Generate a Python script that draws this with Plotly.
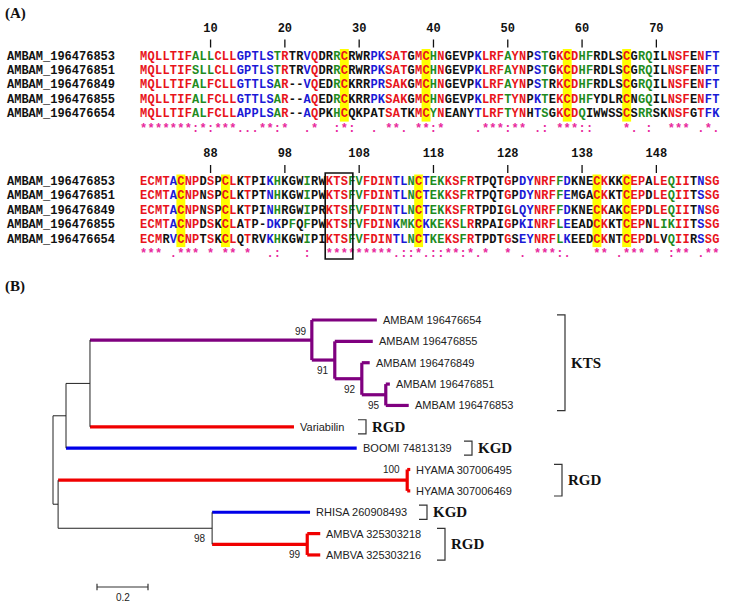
import plotly.graph_objects as go

# ---------------- (A) alignment data ----------------
seq_names = ["AMBAM_196476853", "AMBAM_196476851", "AMBAM_196476849",
             "AMBAM_196476855", "AMBAM_196476654"]

block1_seqs = [
    "MQLLTIFALLCLLGPTLSTRTRVQDRRCRWRPKSATGMCHNGEVPKLRFAYNPSTGKCDHFRDLSCGRQILNSFENFT",
    "MQLLTIFSLLCLLGPTLSTRTRVQDRRCRWRPKSATGMCHNGEVPKLRFAYNPSTGKCDHFRDLSCGRQILNSFENFT",
    "MQLLTIFALFCLLGTTLSAR--VQEDRCKRRPRSAKGMCHNGEVPKLRFAYNPSTRKCDHFRDLSCGRQILNSFENFT",
    "MQLLTIFALFCLLGTTLSAR--AQEDRCKRRPKSAKGMCHNGEVPKLRFTYNPKTEKCDHFYDLRCNGQILNSFENFT",
    "MQLLTIFALFCLLAPPLSAR--AQPKHCQKPATSATKMCYNEANYTLRFTYNHTSGKCDQIWWSSCSRRSKNSFGTFK",
]
block2_seqs = [
    "ECMTACNPDSPCLKTPIKHKGWIRWKTSFVFDINTLNCTEKKSFRTPQTGPDYNRFFDKNECKKKCEPALEQIITNSG",
    "ECMTACNPNSPCLKTPTNHKGWIPWKTSFVFDINTLNCTEKKSFRTPQTGPDYNRFFEMGACKKTCEPDLEQIITSSG",
    "ECMTACNPNSPCLKTPINHRGWIPRKTSFVFDINTLNCTEKKSFRTPDIGLQYNRFFDKNECKAKCEPDLEQIITNSG",
    "ECMTACNPDSKCLATP-DKPFQFPWKTSFVFDINKMKCKKEKSLRRPAIGPKINRFLEEADCKKTCEPNLIKIITSSG",
    "ECMRVCNPTSKCLQTRVKHKGWIPIKTSFVFDINTLNCTKEKSFRTPDTGSEYNRFLKEEDCKNTCEPDLVQIIRSSG",
]
block1_consensus = "".join([
    "*******", ":", "*", ":", "***", "...", "**", ":", "*", "  ", ".", "*", "  ",
    ":", "*", ":", "  ", ".", " ", "**", ".", " ", "**", ":", "*", "    ", ".",
    "***", ":", "**", " ", ".", ":", " ", "***", "::", "    ", "*", ".", " ", ":",
    "  ", "***", " ", ".", "*", ".",
])
block2_consensus = "".join([
    "***", " ", ".", "***", " ", "*", " ", "**", " ", "*", "  ", ".", ":", "   ",
    ":", "  ", "*********", ".", "::", "*", ".", "::", "**", ":", "*", ".", "*",
    "  ", "*", " ", ".", " ", "***", ":", ".", "   ", "**", " ", ".", "***", " ",
    "*", " ", ":", "**", " ", ".", "**",
])
block_starts = [1, 79]
block1_ticks = [10, 20, 30, 40, 50, 60, 70]
block2_ticks = [88, 98, 108, 118, 128, 138, 148]
cys_cols = [28, 39, 58, 66, 84, 90, 116, 140, 144]
motif_cols = [104, 105, 106]

# residue colour codes (r red, g green, b blue, k black), one string per row
block1_codes = [
    "rrrrrrrggg" "rrrbbbbbgr" "kkbrkkgrkk" "kbbrrrkrrg" "rkkkkbrrrg" "rrkbgkrrrg" "gkkkkrkggk" "krrrkrbb",
    "rrrrrrrggg" "rrrbbbbbgr" "kkbrkkgrkk" "kbbrrrkrrg" "rkkkkbrrrg" "rrkbgkrrrg" "gkkkkrkggk" "krrrkrbb",
    "rrrrrrrggr" "rrrbbbbbgr" "kkbrkkgrkk" "kbbrrrkrrg" "rkkkkbrrrg" "rrkbgkrrrg" "gkkkkrkggk" "krrrkrbb",
    "rrrrrrrggr" "rrrbbbbbgr" "kkbrkkgrkk" "kbbrrrkrrg" "rkkkkbrrrg" "rrkbgkrrrg" "gkkkkrkggk" "krrrkrbb",
    "rrrrrrrggr" "rrrbbbbbgr" "kkbrkkgrkk" "kkkrrkkrrg" "rkkkkbrrrg" "rrkbgkrrrg" "kkkkkrkggk" "krrrkrbb",
]
block2_codes = [
    "rrrrbrrrkr" "krrkrkkbgk" "kkgkkrrrgg" "rrrrbbgrbg" "grrgrkkkkr" "kbbrrrgbkk" "krrkkrrrkr" "rgrrkbrr",
    "rrrrbrrrkr" "krrkrkkbgk" "kkgkkrrrgg" "rrrrbbgrbg" "grrgrkkkkr" "kbbrrrgbkk" "krrkkrrrkr" "rgrrkbrr",
    "rrrrbrrrkr" "krrkrkkbgk" "kkgkkrrrgg" "rrrrbbgrbg" "grrgrkkkkr" "kbbrrrgbkk" "krrkkrrrkr" "rgrrkbrr",
    "rrrrbrrrkr" "krrkrkkbbk" "gkgkkrrrgg" "rrrrbggrbg" "grrgrkkkkr" "kbbrrrgbkk" "krrkkrrrkr" "ggrrkbrr",
    "rrrkbrrrkr" "krrkrkkbgk" "kkgkkrrrgg" "rrrrbbgrbg" "grrgrkkkkr" "kbbrrrgbkk" "krrkkrrrkr" "kgrrkbrr",
]
RES_COLORS = {"r": "#e8141b", "g": "#1f8c1f", "b": "#1a1ad6", "k": "#111111"}
CONS_COLOR = "#e8289c"

# ---------------- (B) tree data ----------------
tip_labels = ["AMBAM 196476654", "AMBAM 196476855", "AMBAM 196476849",
              "AMBAM 196476851", "AMBAM 196476853", "Variabilin",
              "BOOMI 74813139", "HYAMA 307006495", "HYAMA 307006469",
              "RHISA 260908493", "AMBVA 325303218", "AMBVA 325303216"]
tip_parent = ["KTS", "D", "E", "F", "F", "B", "A", "HY", "HY", "J", "AV", "AV"]
tip_length = [0.255, 0.149, 0.031, 0.016, 0.090, 0.80, 1.14,
              0.012, 0.012, 0.384, 0.051, 0.051]
node_ids = ["A", "B", "KTS", "D", "E", "F", "H", "HY", "J", "AV"]
node_parent = ["root", "A", "B", "KTS", "D", "E", "root", "H", "H", "J"]
node_length = [0.051, 0.094, 0.87, 0.09, 0.106, 0.094, 0.02, 1.369, 0.604, 0.373]
bootstrap = {"KTS": 99, "D": 91, "E": 92, "F": 95, "HY": 100, "J": 98, "AV": 99}
motif_labels = ["KTS", "RGD", "KGD", "RGD", "KGD", "RGD"]
motif_tips = [(0, 4), (5, 5), (6, 6), (7, 8), (9, 9), (10, 11)]
scale_len = 0.2

PURPLE, RED, BLUE = "#7f007f", "#f00000", "#0000e8"
edge_color = {"KTS": PURPLE, "D": PURPLE, "E": PURPLE, "F": PURPLE,
              "HY": RED, "AV": RED}
for lab in tip_labels[:5]:
    edge_color[lab] = PURPLE
for lab in ["Variabilin", "HYAMA 307006495", "HYAMA 307006469",
            "AMBVA 325303218", "AMBVA 325303216"]:
    edge_color[lab] = RED
for lab in ["BOOMI 74813139", "RHISA 260908493"]:
    edge_color[lab] = BLUE

# ---------------- layout constants (pixels) ----------------
W, H = 730, 606
SPLIT = 262
CHAR_W, COL1_PX = 7.43, 143.7
ROW0_PX, ROW_GAP = [56.5, 182.0], 14.4
PX_PER_UNIT, ROOT_PX = 255.0, 53.0
TIP0_PX, TIP_GAP = 320.0, 21.36
BRACKET_PX = [565, 366, 472, 562, 427, 445]
SCALE_X0_PX = 97

fig = go.Figure()
shapes, annotations = [], []

# ---------------- alignment ----------------
blocks = [(block1_seqs, block1_codes, block1_consensus, block1_ticks),
          (block2_seqs, block2_codes, block2_consensus, block2_ticks)]
xs, ys, ts, cs = [], [], [], []
tick_x, tick_y = [], []
for b, (seqs, codes, cons, ticks) in enumerate(blocks):
    y0 = ROW0_PX[b]
    for r, (seq, code) in enumerate(zip(seqs, codes)):
        for c, (ch, cc) in enumerate(zip(seq, code)):
            xs.append(c + 1); ys.append(y0 + r * ROW_GAP)
            ts.append(ch); cs.append(RES_COLORS[cc])
        annotations.append(dict(
            x=5 / W, xref="paper", y=y0 + r * ROW_GAP, yref="y", text=seq_names[r],
            xanchor="left", yanchor="middle", showarrow=False,
            font=dict(family="Liberation Mono", size=12, color="#111", weight="bold")))
    for c, ch in enumerate(cons):
        if ch != " ":
            xs.append(c + 1); ys.append(y0 + len(seqs) * ROW_GAP)
            ts.append(ch); cs.append(CONS_COLOR)
    for t in ticks:
        col = t - block_starts[b] + 1
        xs.append(col); ys.append(y0 - 28); ts.append(str(t)); cs.append("#111")
        tick_x += [col, col, None]; tick_y += [y0 - 17, y0 - 9, None]
    # conserved cysteine highlight
    for cc in cys_cols:
        col = cc - block_starts[b] + 1
        if 1 <= col <= len(seqs[0]):
            shapes.append(dict(type="rect", xref="x", yref="y", layer="below",
                               x0=col - 0.6, x1=col + 0.6,
                               y0=y0 - 7.5, y1=y0 + (len(seqs) - 1) * ROW_GAP + 7.5,
                               fillcolor="#ffff00", line=dict(width=0)))
    # motif box
    mc = [m - block_starts[b] + 1 for m in motif_cols]
    if 1 <= mc[0] <= len(seqs[0]):
        shapes.append(dict(type="rect", xref="x", yref="y",
                           x0=mc[0] - 0.57, x1=mc[-1] + 1.15,
                           y0=y0 - 9, y1=y0 + len(seqs) * ROW_GAP + 5,
                           line=dict(color="#111", width=1.6)))

fig.add_trace(go.Scatter(
    x=xs, y=ys, text=ts, mode="text", textposition="middle center",
    textfont=dict(family="Liberation Mono", size=12, color=cs, weight="bold"),
    hoverinfo="skip", showlegend=False, xaxis="x", yaxis="y"))
fig.add_trace(go.Scatter(
    x=tick_x, y=tick_y, mode="lines", line=dict(color="#111", width=1.3),
    hoverinfo="skip", showlegend=False, xaxis="x", yaxis="y"))

# ---------------- tree ----------------
parent, length = {}, {}
for n, p, l in zip(tip_labels + node_ids, tip_parent + node_parent,
                   tip_length + node_length):
    parent[n], length[n] = p, l
children = {}
for n in tip_labels + node_ids:
    children.setdefault(parent[n], []).append(n)

xpos = {"root": 0.0}


def set_x(n):
    for c in children.get(n, []):
        xpos[c] = xpos[n] + length[c]
        set_x(c)


set_x("root")
ypos = {lab: float(i) for i, lab in enumerate(tip_labels)}


def set_y(n):
    if n in ypos:
        return ypos[n]
    cy = [set_y(c) for c in children[n]]
    ypos[n] = (min(cy) + max(cy)) / 2
    return ypos[n]


set_y("root")

segs = {}


def add_seg(color, x0, y0, x1, y1):
    sx, sy = segs.setdefault(color, ([], []))
    sx += [x0, x1, None]
    sy += [y0, y1, None]


for n, p in parent.items():
    add_seg(edge_color.get(n, "#222"), xpos[p], ypos[n], xpos[n], ypos[n])
for n, ch in children.items():
    cols = {edge_color.get(c, "#222") for c in ch}
    col = cols.pop() if len(cols) == 1 else "#222"
    cy = [ypos[c] for c in ch]
    add_seg(col, xpos[n], min(cy), xpos[n], max(cy))

for color, (sx, sy) in segs.items():
    fig.add_trace(go.Scatter(
        x=sx, y=sy, mode="lines",
        line=dict(color=color, width=1 if color == "#222" else 3.2),
        hoverinfo="skip", showlegend=False, xaxis="x2", yaxis="y2"))

for lab in tip_labels:
    annotations.append(dict(
        x=xpos[lab], y=ypos[lab], xref="x2", yref="y2", text=lab,
        xanchor="left", yanchor="middle", xshift=4, showarrow=False,
        font=dict(family="Liberation Sans", size=11, color="#222")))

for n, v in bootstrap.items():
    if n == "KTS":
        pos = dict(y=ypos[n], yanchor="bottom", yshift=1, xshift=-3)
    elif n == "HY":
        pos = dict(y=min(ypos[c] for c in children[n]), yanchor="middle",
                   yshift=0, xshift=-5)
    else:
        pos = dict(y=ypos[n], yanchor="top", yshift=-3, xshift=-4)
    annotations.append(dict(
        x=xpos[n], xref="x2", yref="y2", text=str(v), xanchor="right",
        showarrow=False, font=dict(family="Liberation Sans", size=10, color="#222"),
        **pos))


def px_to_x2(px):
    return (px - ROOT_PX) / PX_PER_UNIT


tick_u = 8 / PX_PER_UNIT
bx_all, by_all = [], []
for lab, (t0, t1), bpx in zip(motif_labels, motif_tips, BRACKET_PX):
    bx = px_to_x2(bpx)
    pad = 0.33 if t0 == t1 else 0.24
    ya, yb = t0 - pad, t1 + pad
    bx_all += [bx - tick_u, bx, bx, bx - tick_u, None]
    by_all += [ya, ya, yb, yb, None]
    annotations.append(dict(
        x=bx, y=(t0 + t1) / 2, xref="x2", yref="y2", text=lab, xanchor="left",
        yanchor="middle", xshift=4, showarrow=False,
        font=dict(family="Liberation Serif", size=15, color="#111", weight="bold")))
fig.add_trace(go.Scatter(
    x=bx_all, y=by_all, mode="lines", line=dict(color="#333", width=1.2),
    hoverinfo="skip", showlegend=False, xaxis="x2", yaxis="y2"))

# scale bar
sb0 = px_to_x2(SCALE_X0_PX)
sb_y = (587 - TIP0_PX) / TIP_GAP
fig.add_trace(go.Scatter(
    x=[sb0, sb0 + scale_len, None, sb0, sb0, None, sb0 + scale_len, sb0 + scale_len],
    y=[sb_y, sb_y, None, sb_y - 0.15, sb_y + 0.15, None, sb_y - 0.15, sb_y + 0.15],
    mode="lines", line=dict(color="#333", width=1.2),
    hoverinfo="skip", showlegend=False, xaxis="x2", yaxis="y2"))
annotations.append(dict(
    x=sb0 + scale_len / 2, y=sb_y, xref="x2", yref="y2", text=str(scale_len),
    yanchor="top", yshift=-3, showarrow=False,
    font=dict(family="Liberation Sans", size=10, color="#222")))

# panel labels
for txt, ypx in [("(A)", 14), ("(B)", 286)]:
    annotations.append(dict(
        x=3 / W, y=1 - ypx / H, xref="paper", yref="paper", text=txt,
        xanchor="left", yanchor="middle", showarrow=False,
        font=dict(family="Liberation Serif", size=15, color="#111", weight="bold")))

split_frac = 1 - SPLIT / H
hidden = dict(visible=False, showgrid=False, zeroline=False, fixedrange=True)
fig.update_layout(
    width=W, height=H, margin=dict(l=0, r=0, t=0, b=0),
    paper_bgcolor="white", plot_bgcolor="rgba(0,0,0,0)",
    hovermode=False, showlegend=False,
    xaxis=dict(domain=[0, 1], anchor="y",
               range=[1 - COL1_PX / CHAR_W, 1 + (W - COL1_PX) / CHAR_W], **hidden),
    yaxis=dict(domain=[split_frac, 1], anchor="x", range=[SPLIT, 0], **hidden),
    xaxis2=dict(domain=[0, 1], anchor="y2",
                range=[-ROOT_PX / PX_PER_UNIT, (W - ROOT_PX) / PX_PER_UNIT], **hidden),
    yaxis2=dict(domain=[0, split_frac], anchor="x2",
                range=[(H - TIP0_PX) / TIP_GAP, (SPLIT - TIP0_PX) / TIP_GAP], **hidden),
    shapes=shapes, annotations=annotations,
)

# the page's default body margin would shift the fixed-size figure by 8px
fig.write_html("out.html", config={"displayModeBar": False},
               post_script="document.body.style.margin='0';")
